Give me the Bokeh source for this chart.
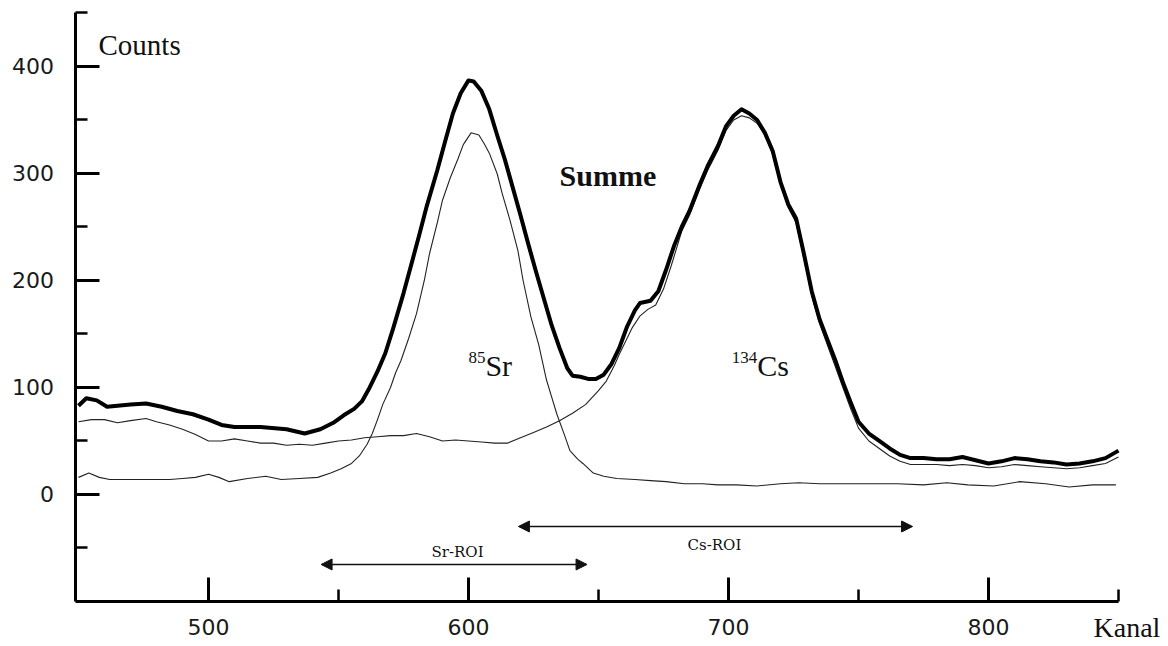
from bokeh.plotting import figure
from bokeh.models import Range1d, FixedTicker, Label, Arrow, NormalHead
from bokeh.embed import file_html
from bokeh.resources import INLINE

# ---------------- data ----------------
sum_x = [450, 453, 457, 461, 465, 470, 476, 482, 488, 494, 500, 505, 510, 520, 530, 537, 543, 548,
         552, 556, 559, 562, 565, 568, 571, 575, 578, 581, 584, 588, 591, 594, 597, 600, 602, 605,
         608, 611, 614, 617, 620, 623, 626, 629, 632, 635, 638, 640, 643, 646, 649, 652, 655, 658,
         661, 664, 666, 670, 673, 676, 679, 682, 685, 689, 692, 696, 699, 702, 705, 708, 711, 714,
         717, 720, 723, 726, 729, 732, 735, 738, 741, 744, 747, 750, 754, 758, 762, 766, 770, 775,
         780, 785, 790, 795, 800, 805, 810, 815, 820, 825, 830, 835, 840, 845, 850]
sum_y = [83, 90, 88, 82, 83, 84, 85, 82, 78, 75, 70, 65, 63, 63, 61, 57, 61, 67,
         74, 80, 87, 100, 115, 132, 155, 188, 215, 242, 270, 303, 330, 356, 375, 387, 386, 377,
         360, 336, 313, 287, 261, 234, 208, 183, 158, 137, 118, 111, 110, 108, 108, 112, 122, 137,
         157, 172, 179, 181, 190, 210, 232, 250, 265, 290, 307, 326, 344, 354, 360, 356, 350, 338,
         321, 292, 271, 258, 225, 190, 164, 145, 126, 105, 86, 68, 57, 50, 43, 37, 34, 34,
         33, 33, 35, 32, 29, 31, 34, 33, 31, 30, 28, 29, 31, 34, 41]

cs_x = [450, 455, 460, 465, 470, 476, 480, 485, 490, 495, 500, 505, 510, 515, 520, 525, 530, 535,
        540, 545, 550, 555, 560, 565, 570, 575, 580, 585, 590, 595, 600, 605, 610, 615, 620, 625,
        630, 635, 640, 645, 650, 653, 656, 658, 661, 663, 666, 669, 672, 675, 678, 682, 685, 689,
        692, 696, 699, 702, 705, 708, 711, 714, 717, 720, 723, 726, 729, 732, 735, 738, 741, 744,
        747, 750, 754, 758, 762, 766, 770, 775, 780, 785, 790, 795, 800, 805, 810, 815, 820, 825,
        830, 835, 840, 845, 850]
cs_y = [68, 70, 70, 67, 69, 71, 68, 65, 61, 56, 50, 50, 52, 50, 48, 48, 46, 47,
        46, 48, 50, 51, 53, 54, 55, 55, 57, 54, 50, 51, 50, 49, 48, 48, 53, 58,
        63, 69, 76, 84, 97, 106, 120, 131, 146, 156, 167, 173, 177, 192, 214, 246, 261, 286,
        303, 322, 340, 350, 354, 352, 347, 336, 318, 290, 268, 254, 221, 186, 160, 140, 120, 100,
        80, 62, 50, 43, 36, 31, 28, 28, 28, 27, 28, 27, 25, 26, 28, 27, 26, 25,
        24, 25, 27, 29, 35]

sr_x = [450, 454, 458, 462, 470, 478, 485, 490, 495, 500, 504, 508, 515, 522, 528, 535, 542, 547,
        551, 555, 558, 561, 563, 565, 567, 570, 572, 574, 577, 580, 583, 585, 588, 590, 593, 596,
        598, 601, 604, 606, 608, 611, 613, 616, 619, 621, 624, 627, 630, 632, 634, 637, 639, 642,
        644, 648, 652, 657, 664, 670, 676, 683, 690, 696, 703, 711, 720, 727, 735, 745, 755, 765,
        775, 784, 792, 802, 812, 822, 831, 840, 849]
sr_y = [16, 20, 16, 14, 14, 14, 14, 15, 16, 19, 16, 12, 15, 17, 14, 15, 16, 20,
        24, 29, 36, 47, 57, 70, 84, 100, 114, 125, 146, 169, 200, 225, 254, 275, 296, 314,
        327, 338, 336, 328, 319, 300, 281, 256, 228, 200, 166, 140, 107, 91, 75, 55, 41, 33,
        29, 20, 17, 15, 14, 13, 12, 10, 10, 9, 9, 8, 10, 11, 10, 10, 10, 10,
        9, 11, 9, 8, 12, 10, 7, 9, 9]

x_major = [500, 600, 700, 800]
x_minor = [550, 650, 750, 850]
y_major = [0, 100, 200, 300, 400]
y_minor = [-50, 50, 150, 250, 350, 450]

x_axis_span = [449, 850]
y_axis_span = [-100, 450]

sr_roi = [543.3, 645.6]
cs_roi = [619.2, 770.8]

# ---------------- figure ----------------
# the frame covers the whole canvas; the axes sit at fixed data positions
p = figure(width=1168, height=646,
           x_range=Range1d(420.0, 869.23), y_range=Range1d(-142.06, 461.68),
           output_backend="svg", toolbar_location=None, min_border=0)
p.outline_line_color = None
p.xgrid.visible = False
p.ygrid.visible = False
p.background_fill_color = "white"
p.border_fill_color = "white"

p.xaxis.ticker = FixedTicker(ticks=x_major, minor_ticks=x_minor)
p.yaxis.ticker = FixedTicker(ticks=y_major, minor_ticks=y_minor)
p.xaxis.fixed_location = y_axis_span[0]
p.yaxis.fixed_location = x_axis_span[0]
p.xaxis.bounds = tuple(x_axis_span)
p.yaxis.bounds = tuple(y_axis_span)
for ax in (p.xaxis, p.yaxis):
    ax.axis_line_width = 3
    ax.axis_line_color = "black"
    ax.major_tick_in = 24
    ax.major_tick_out = 0
    ax.minor_tick_in = 12
    ax.minor_tick_out = 0
    ax.major_tick_line_width = 3
    ax.minor_tick_line_width = 2.5
    ax.major_tick_line_color = "black"
    ax.minor_tick_line_color = "black"
    ax.major_label_text_font = "DejaVu Sans"
    ax.major_label_text_font_size = "22px"
    ax.major_label_text_color = "#1a1a1a"
p.yaxis.major_label_standoff = 22
p.xaxis.major_label_standoff = 18

thin = "#222222"
p.line(sr_x, sr_y, line_width=1.1, line_color=thin, line_join="round")
p.line(cs_x, cs_y, line_width=1.1, line_color=thin, line_join="round")
p.line(sum_x, sum_y, line_width=4, line_color="black", line_join="round")

serif = "Liberation Serif"
p.add_layout(Label(x=457.7, y=420.5, text="Counts", text_font=serif, text_font_size="29px",
                   text_align="left", text_baseline="alphabetic", text_color="#111111"))
p.add_layout(Label(x=840.4, y=-124.5, text="Kanal", text_font=serif, text_font_size="28px",
                   text_align="left", text_baseline="alphabetic", text_color="#111111"))
p.add_layout(Label(x=653.6, y=297.7, text="Summe", text_font=serif, text_font_size="30px",
                   text_font_style="bold", text_align="center", text_baseline="alphabetic",
                   text_color="#111111"))
# isotope labels: superscript mass number + element symbol
p.add_layout(Label(x=606.5, y=128.5, text="85", text_font=serif, text_font_size="17px",
                   text_align="right", text_baseline="alphabetic", text_color="#111111"))
p.add_layout(Label(x=606.5, y=121.0, text="Sr", text_font=serif, text_font_size="30px",
                   text_align="left", text_baseline="alphabetic", text_color="#111111"))
p.add_layout(Label(x=711.1, y=128.5, text="134", text_font=serif, text_font_size="17px",
                   text_align="right", text_baseline="alphabetic", text_color="#111111"))
p.add_layout(Label(x=711.1, y=121.0, text="Cs", text_font=serif, text_font_size="30px",
                   text_align="left", text_baseline="alphabetic", text_color="#111111"))

# ROI arrows
for roi, ya, lbl, ly, lx in ((sr_roi, -65.4, "Sr-ROI", -54.2, 595.8),
                             (cs_roi, -29.9, "Cs-ROI", -47.6, 694.6)):
    p.add_layout(Arrow(x_start=roi[0], y_start=ya, x_end=roi[1], y_end=ya,
                       line_width=1.5, line_color="#111111",
                       start=NormalHead(size=11, fill_color="#111111", line_color="#111111", line_width=1),
                       end=NormalHead(size=11, fill_color="#111111", line_color="#111111", line_width=1)))
    p.add_layout(Label(x=lx, y=ly, text=lbl, text_font="DejaVu Serif", text_font_size="15px",
                       text_align="center", text_baseline="alphabetic", text_color="#111111"))

open("out.html", "w").write(file_html(p, INLINE))
